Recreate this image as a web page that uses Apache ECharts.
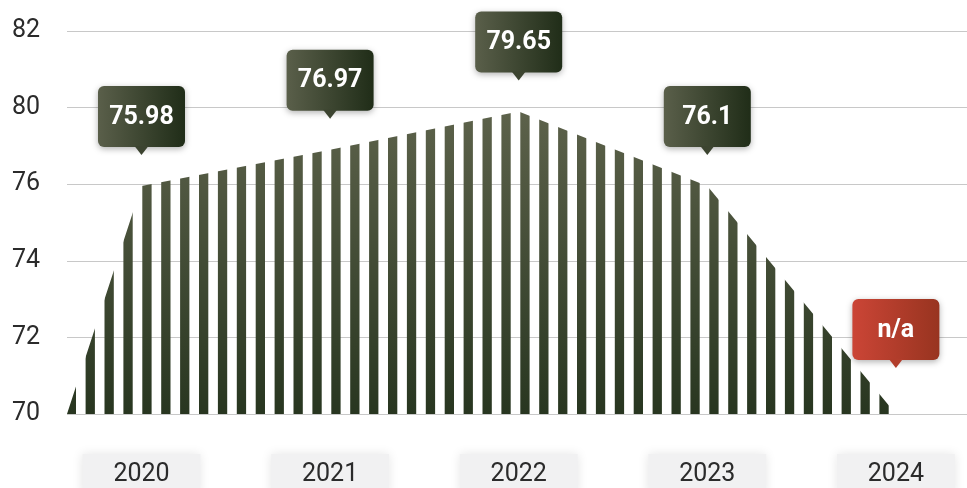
<!DOCTYPE html>
<html>
<head>
<meta charset="utf-8">
<script src="https://cdn.jsdelivr.net/npm/echarts@6/dist/echarts.min.js"></script>
<style>
  html, body { margin: 0; padding: 0; background: #fff; }
  #main { width: 967px; height: 488px; }
</style>
</head>
<body>
<div id="main"></div>
<script>
// outline of the striped area (axis units)
const envYears = [2019.605, 2020, 2021, 2022, 2023, 2024];
const envValues = [70, 75.95, 76.9, 77.9, 75.95, 70];

// callouts sit on the outline at each year
const years = [2020, 2021, 2022, 2023, 2024];
const labels = ['75.98', '76.97', '79.65', '76.1', 'n/a'];

const yTicks = [70, 72, 74, 76, 78, 80];
const yTickLabels = ['70', '72', '74', '76', '80', '82'];

// vertical stripes with a dark olive gradient, period ~18.9px
function stripes() {
  const c = document.createElement('canvas');
  c.width = 189;
  c.height = 488;
  const ctx = c.getContext('2d');
  const g = ctx.createLinearGradient(0, 110, 0, 414);
  g.addColorStop(0, '#5d624b');
  g.addColorStop(1, '#283620');
  ctx.fillStyle = g;
  for (let k = -1; k < 11; k++) {
    ctx.fillRect(10 + 18.9 * k, 0, 9.3, 488);
  }
  return c;
}

function callout(params, api) {
  const i = params.dataIndex;
  const na = labels[i] === 'n/a';
  const p = api.coord([api.value(0), api.value(1)]);
  const tipX = p[0];
  const tipY = p[1] - (na ? 46 : 31);
  const w = 87, h = 61;
  const bottom = tipY - 8;
  const stops = na
    ? [{ offset: 0, color: '#cb4536' }, { offset: 1, color: '#983420' }]
    : [{ offset: 0, color: '#5a5f4a' }, { offset: 1, color: '#202d18' }];
  return {
    type: 'group',
    children: [
      {
        type: 'rect',
        shape: { x: tipX - w / 2, y: bottom - h, width: w, height: h, r: 6 },
        style: {
          fill: new echarts.graphic.LinearGradient(0, 0, 1, 0, stops),
          shadowBlur: 6, shadowColor: 'rgba(0,0,0,0.3)', shadowOffsetY: 2
        }
      },
      {
        type: 'polygon',
        shape: { points: [[tipX - 7, bottom - 1], [tipX + 7, bottom - 1], [tipX, tipY]] },
        style: { fill: na ? '#b23d2b' : '#3c4430' }
      },
      {
        type: 'text',
        x: tipX,
        y: bottom - h / 2 + 1,
        style: {
          text: labels[i], fill: '#fff',
          font: 'bold 25px Roboto', align: 'center', verticalAlign: 'middle'
        }
      }
    ]
  };
}

var myChart = echarts.init(document.getElementById('main'));
let option = {
  animation: false,
  grid: { left: 67, right: 0, top: 31, bottom: 74, outerBoundsMode: 'none', containLabel: false },
  xAxis: {
    type: 'value',
    min: 2019.605,
    max: 2024.377,
    axisLine: { show: false },
    axisTick: { show: false },
    splitLine: { show: false },
    axisLabel: {
      customValues: years,
      formatter: v => String(v),
      margin: 40,
      width: 118,
      height: 42,
      lineHeight: 42,
      align: 'center',
      backgroundColor: '#f1f1f2',
      shadowBlur: 10,
      shadowColor: 'rgba(0,0,0,0.1)',
      color: '#2b2b2b',
      fontSize: 25,
      fontFamily: 'Roboto'
    }
  },
  yAxis: {
    type: 'value',
    min: 70,
    max: 80,
    interval: 2,
    axisLine: { show: false },
    axisTick: { show: false },
    splitLine: { lineStyle: { color: '#c8c8c8', width: 1 } },
    axisLabel: {
      formatter: v => yTickLabels[yTicks.indexOf(v)],
      align: 'left',
      margin: 55,
      color: '#2b2b2b',
      fontSize: 25,
      fontFamily: 'Roboto'
    }
  },
  series: [
    {
      type: 'line',
      data: envYears.map((x, i) => [x, envValues[i]]),
      showSymbol: false,
      lineStyle: { opacity: 0 },
      areaStyle: { origin: 'start', opacity: 1, color: { image: stripes(), repeat: 'repeat' } },
      silent: true
    },
    {
      type: 'custom',
      data: years.map(y => [y, envValues[envYears.indexOf(y)]]),
      renderItem: callout,
      clip: false,
      z: 5
    }
  ]
};
option && myChart.setOption(option);
</script>
</body>
</html>
